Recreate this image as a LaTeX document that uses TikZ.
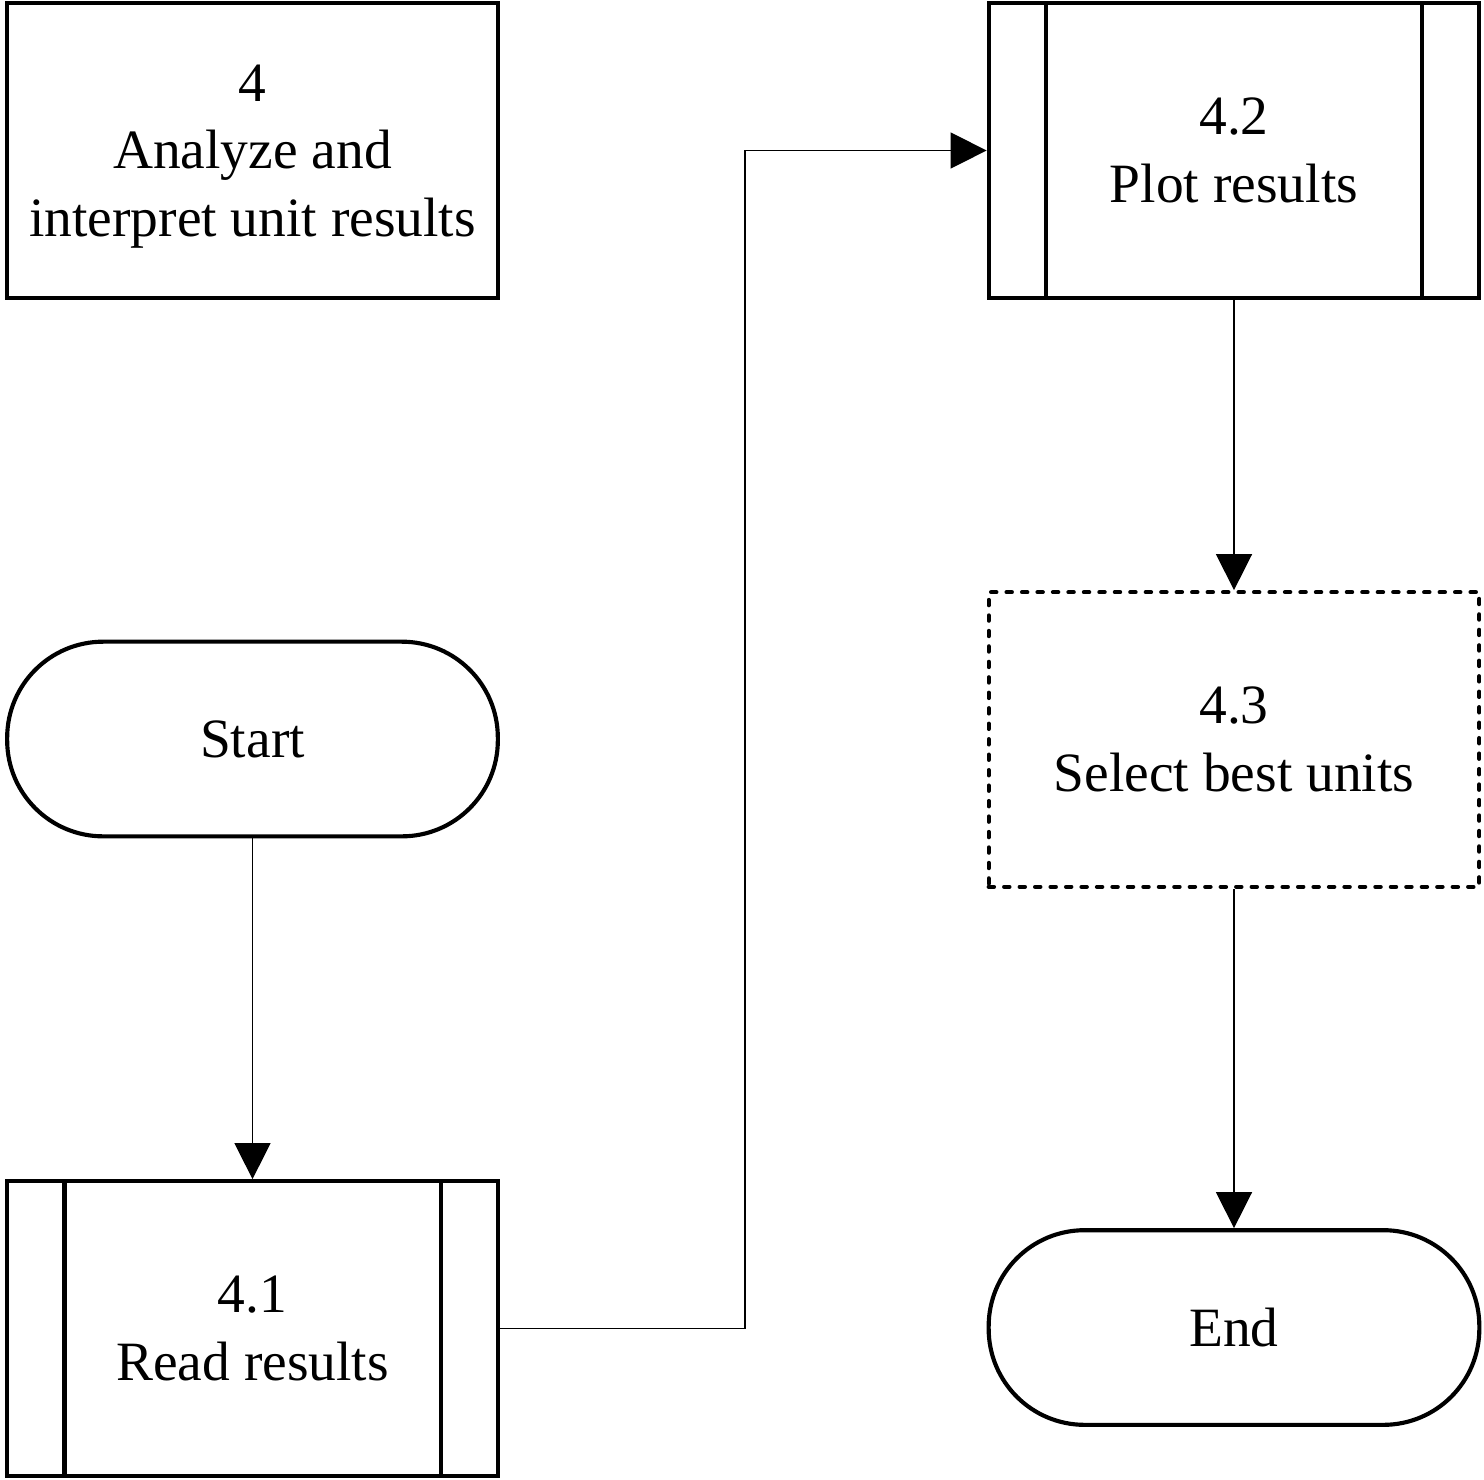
\documentclass[tikz,border=0pt]{standalone}
\usepackage{fontspec}
\setmainfont{Liberation Serif}
\usetikzlibrary{arrows.meta}
\tikzset{
  box/.style={draw, line width=3.1pt, minimum width=368pt, minimum height=221pt, align=center, inner sep=0pt, font=\fontsize{41.6}{50.5}\selectfont},
  term/.style={box, minimum height=146pt, rounded corners=72pt},
  dashbox/.style={box, dash pattern=on 4pt off 7.6pt, line cap=round},
  conn/.style={line width=1.1pt, -{Triangle[length=27pt,width=27pt]}},
  inner/.style={line width=3.1pt}
}
\begin{document}
\begin{tikzpicture}[x=0.75pt,y=-0.75pt]
\useasboundingbox (0,0) rectangle (1484,1479);
\node[box, text depth=0pt] (b4) at (252.5,150.5) {4\\Analyze and\\interpret unit results};
\node[term] (start) at (252.5,739) {Start};
\node[box] (p41) at (252.5,1328.5) {4.1\\Read results};
\node[box] (p42) at (1234,150.5) {4.2\\Plot results};
\node[dashbox] (p43) at (1234,739.5) {4.3\\Select best units};
\node[term] (end) at (1234,1327.5) {End};
\foreach \n in {p41,p42}{
  \draw[inner] ([xshift=44.5pt]\n.north west) -- ([xshift=44.5pt]\n.south west);
  \draw[inner] ([xshift=-44.5pt]\n.north east) -- ([xshift=-44.5pt]\n.south east);
}
\coordinate (m1) at (745,1328.5);
\coordinate (m2) at (745,150.5);
\draw[conn] (start) -- (p41);
\draw[conn] (p41.east) -- (m1) -- (m2) -- (p42.west);
\draw[conn] (p42) -- (p43);
\draw[conn] (p43) -- (end);
\end{tikzpicture}
\end{document}
